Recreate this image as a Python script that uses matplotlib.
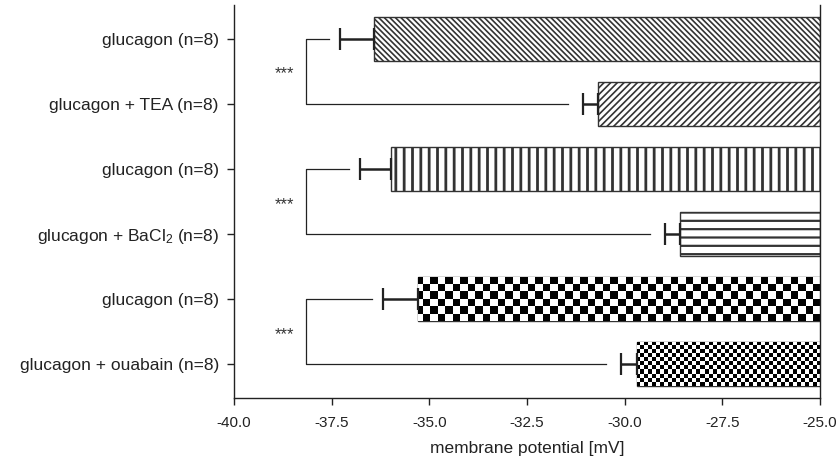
import numpy as np
import matplotlib
matplotlib.use("Agg")
import matplotlib.pyplot as plt

plt.rcParams['font.family'] = ['Liberation Sans', 'DejaVu Sans']
plt.rcParams['mathtext.fontset'] = 'custom'
plt.rcParams['mathtext.rm'] = 'Liberation Sans'
plt.rcParams['mathtext.it'] = 'Liberation Sans'
plt.rcParams['hatch.linewidth'] = 1.3

labels = ["glucagon (n=8)", "glucagon + TEA (n=8)", "glucagon (n=8)",
          "glucagon + BaCl$_2$ (n=8)", "glucagon (n=8)", "glucagon + ouabain (n=8)"]
means = [-36.41, -30.69, -35.99, -28.59, -35.29, -29.69]
sems = [0.89, 0.39, 0.79, 0.38, 0.90, 0.40]
hatches = ['\\' * 6, '/' * 5, '||', '--', None, None]
hatch_lw = [1.2, 1.2, 2.0, 1.6, None, None]
checker_px = [None, None, None, None, 7.5, 4.0]   # checkerboard square size
pairs = [(0, 1), (2, 3), (4, 5)]
stars = ["***", "***", "***"]

base = -25.0
ink = '#222222'

fig = plt.figure(figsize=(8.36, 4.57), dpi=100)
ax = fig.add_axes([0.28, 0.129, 0.701, 0.860])

y = np.arange(len(means))
bars = ax.barh(y, np.array(means) - base, left=base, height=0.68,
               color='white', edgecolor='#333333', linewidth=1.0, zorder=2)
for b, h, lw in zip(bars, hatches, hatch_lw):
    if h:
        b.set_hatch(h)
        if hasattr(b, 'set_hatch_linewidth'):
            b.set_hatch_linewidth(lw)

ax.errorbar(means, y, xerr=[sems, [0] * len(sems)], fmt='none', ecolor=ink,
            elinewidth=1.8, capsize=8, capthick=1.6, zorder=3)

ax.set_xlim(-40, -25)
ax.set_ylim(len(means) - 0.48, -0.52)

# checkerboard fills, clipped to the bars
fig.canvas.draw()
ppx = ax.transData.transform((1, 0))[0] - ax.transData.transform((0, 0))[0]
ppy = abs(ax.transData.transform((0, 1))[1] - ax.transData.transform((0, 0))[1])
for b, sq in zip(bars, checker_px):
    if sq is None:
        continue
    x0, w = b.get_x(), b.get_width()
    y0, hgt = b.get_y(), b.get_height()
    nx = int(np.ceil(abs(w) * ppx / sq))
    ny = int(np.ceil(hgt * ppy / sq))
    grid = (np.add.outer(np.arange(ny), np.arange(nx)) % 2).astype(float)
    x_right = max(x0, x0 + w)
    im = ax.imshow(grid, cmap='gray', interpolation='nearest', aspect='auto',
                   extent=[x_right - nx * sq / ppx, x_right, y0 + ny * sq / ppy, y0],
                   zorder=2.5)
    im.set_clip_path(b)
ax.set_xlim(-40, -25)
ax.set_ylim(len(means) - 0.48, -0.52)

# significance brackets
bx = -38.15
for (i, j), s in zip(pairs, stars):
    top_end = means[i] - sems[i] - 0.28
    bot_end = means[j] - sems[j] - 0.38
    ax.plot([top_end, bx, bx, bot_end], [y[i], y[i], y[j], y[j]],
            color=ink, linewidth=0.9, zorder=3)
    ax.text(bx - 0.55, (y[i] + y[j]) / 2 + 0.04, s, ha='center', va='center',
            fontsize=12, color='#333333')

ax.set_yticks(y)
ax.set_yticklabels(labels, fontsize=12.5, color=ink)
ax.set_xticks(np.arange(-40, -24.9, 2.5))
ax.set_xticklabels(["%.1f" % v for v in np.arange(-40, -24.9, 2.5)],
                   fontsize=11, color=ink)
ax.set_xlabel("membrane potential [mV]", fontsize=12.5, color=ink, labelpad=8)
ax.tick_params(axis='both', direction='out', length=5, width=1.0, color=ink)
ax.tick_params(axis='y', pad=6)
ax.tick_params(axis='x', pad=8)
ax.spines['top'].set_visible(False)
for side in ['left', 'right', 'bottom']:
    ax.spines[side].set_color(ink)
    ax.spines[side].set_linewidth(1.0)

fig.savefig("out.png", dpi=100)
